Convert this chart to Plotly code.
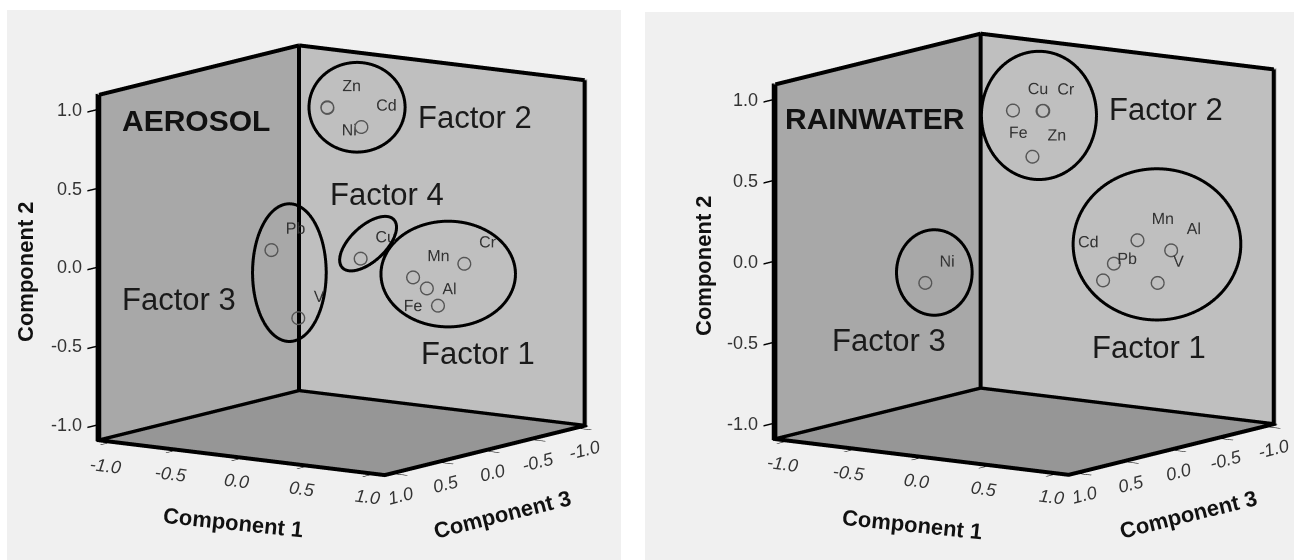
import numpy as np
import plotly.graph_objects as go

# ---------------- component loadings ----------------
aer_elements = ["Zn", "Ni", "Cd", "Cu", "Mn", "Al", "Fe", "Cr", "Pb", "V"]
aer_comp1 = [-0.01, -0.03, 0.18, 0.42, 0.75, 0.82, 0.94, 0.86, -0.05, 0.19]
aer_comp2 = [0.99, 0.98, 0.87, 0.11, 0.01, -0.06, -0.15, 0.05, 0.16, -0.24]
aer_comp3 = [0.15, 0.12, 0.05, 0.40, 0.30, 0.25, 0.30, -0.10, 0.70, 0.75]
aer_textpos = ["top right", "bottom right", "top right", "top right", "top right",
               "middle right", "middle left", "top right", "top right", "top right"]

rain_elements = ["Cu", "Cr", "Fe", "Zn", "Cd", "Mn", "Al", "Pb", "V", "Ni"]
rain_comp1 = [-0.02, 0.20, 0.17, 0.16, 0.73, 0.80, 0.91, 0.72, 0.88, -0.18]
rain_comp2 = [0.90, 0.92, 0.91, 0.64, 0.03, 0.16, 0.08, -0.06, -0.11, -0.08]
rain_comp3 = [0.10, 0.10, 0.05, 0.15, 0.10, -0.05, -0.25, 0.20, -0.15, 0.80]
rain_textpos = ["top right", "top right", "bottom left", "top right", "top left",
                "top right", "top right", "top right", "top right", "top right"]

# factor groupings: centre (c1, c2, c3), semi-axes, tilt in degrees
aer_factor_names = ["Factor 1", "Factor 2", "Factor 3", "Factor 4"]
aer_ring_centre = [(0.67, -0.05, -0.20), (-0.44, 0.81, -0.79), (0.09, 0.03, 0.70), (0.48, 0.21, 0.40)]
aer_ring_axes = [(0.42, 0.33), (0.30, 0.28), (0.23, 0.43), (0.22, 0.11)]
aer_ring_tilt = [0, 0, 0, 43]
aer_label_pos = [(0.83, -0.55, -0.30), (0.665, 0.90, -0.50), (-0.61, -0.18, 0.90), (0.34, 0.45, 0.0)]

rain_factor_names = ["Factor 1", "Factor 2", "Factor 3"]
rain_ring_centre = [(0.66, 0.06, -0.46), (-0.47, 0.69, -0.82), (-0.11, -0.01, 0.80)]
rain_ring_axes = [(0.51, 0.46), (0.35, 0.39), (0.23, 0.26)]
rain_ring_tilt = [0, 0, 0]
rain_label_pos = [(0.71, -0.55, -0.30), (0.63, 0.87, -0.60), (-0.375, -0.44, 0.90)]

tick_vals = [-1.0, -0.5, 0.0, 0.5, 1.0]

R = 1.1  # half-width of the plotting cube
FONT = "Liberation Sans, Arial, sans-serif"
W, H = 1294, 560

# camera: looking from the +Component 1 / +Component 3 side, slightly raised
eye_dir = np.array([0.566, -0.806, 0.1736])
eye_dir = eye_dir / np.linalg.norm(eye_dir)


def to_scene(c1, c2, c3):
    """Scene axes: x = Component 1, y = -Component 3, z = Component 2."""
    return c1, -c3, c2


# screen-facing basis vectors for drawing the group outlines
right_vec = np.cross([0, 0, 1], eye_dir)
right_vec /= np.linalg.norm(right_vec)
up_vec = np.cross(eye_dir, right_vec)
up_vec /= np.linalg.norm(up_vec)


def ring(centre, axes, tilt):
    c = np.array(to_scene(*centre))
    a, b = axes
    th = np.radians(tilt)
    d1 = np.cos(th) * right_vec + np.sin(th) * up_vec
    d2 = -np.sin(th) * right_vec + np.cos(th) * up_vec
    t = np.linspace(0, 2 * np.pi, 121)
    pts = c[None, :] + a * np.cos(t)[:, None] * d1 + b * np.sin(t)[:, None] * d2
    return pts[:, 0], pts[:, 1], pts[:, 2]


def frame_edges():
    """Outline of the three back walls, nudged toward the viewer so the
    lines sit in front of the wall planes."""
    xs, ys, zs = [], [], []
    segs = [
        ((-R, -R, -R), (-R, -R, R)), ((-R, R, -R), (-R, R, R)), ((R, R, -R), (R, R, R)),
        ((-R, R, R), (R, R, R)), ((-R, R, -R), (R, R, -R)), ((-R, -R, -R), (R, -R, -R)),
        ((-R, -R, R), (-R, R, R)), ((-R, -R, -R), (-R, R, -R)), ((R, -R, -R), (R, R, -R)),
    ]
    nudge = 0.03 * eye_dir
    lim = R - 0.004
    for p, q in segs:
        p2 = np.clip(np.array(p) + nudge, -lim, lim)
        q2 = np.clip(np.array(q) + nudge, -lim, lim)
        xs += [p2[0], q2[0], None]
        ys += [p2[1], q2[1], None]
        zs += [p2[2], q2[2], None]
    return xs, ys, zs


def add_panel(fig, scene, names, c1, c2, c3, textpos, rcent, raxes, rtilt):
    fx, fy, fz = frame_edges()
    fig.add_trace(go.Scatter3d(x=fx, y=fy, z=fz, mode="lines",
                               line=dict(color="black", width=8),
                               hoverinfo="skip", scene=scene))
    for cen, ax, tl in zip(rcent, raxes, rtilt):
        ex, ey, ez = ring(cen, ax, tl)
        fig.add_trace(go.Scatter3d(x=ex, y=ey, z=ez, mode="lines",
                                   line=dict(color="black", width=6),
                                   hoverinfo="skip", scene=scene))
    fig.add_trace(go.Scatter3d(
        x=list(c1), y=[-v for v in c3], z=list(c2),
        mode="markers+text", text=names, textposition=textpos,
        textfont=dict(family=FONT, size=16, color="#333333"),
        marker=dict(symbol="circle-open", size=8, color="#555555"),
        hoverinfo="skip", scene=scene))


def tick_labels():
    """Tick labels placed at the tick positions on the three labelled edges."""
    out = []
    f = dict(family=FONT, size=18, color="#333333")
    for v in tick_vals:
        txt = "%.1f" % v
        # Component 1 along the front floor edge
        out.append(dict(x=v, y=-R, z=-R, text="<i>%s</i>" % txt, showarrow=False,
                        xanchor="center", yanchor="middle", xshift=-4, yshift=-23,
                        textangle=7, font=f))
        # Component 3 along the right floor edge
        x, y, z = to_scene(R, -R, v)
        out.append(dict(x=x, y=y, z=z, text="<i>%s</i>" % txt, showarrow=False,
                        xanchor="center", yanchor="middle", xshift=6, yshift=-22,
                        textangle=-14, font=f))
        # Component 2 on the front-left vertical edge
        out.append(dict(x=-R, y=-R, z=v, text=txt, showarrow=False,
                        xanchor="right", yanchor="middle", xshift=-13, yshift=0,
                        font=f))
    return out


def scene_layout(domain_x, domain_y, annotations, cube, cube_centre_px):
    common = dict(range=[-R, R], showgrid=False, zeroline=False, showspikes=False,
                  showbackground=True, ticks="outside", ticklen=16, tickwidth=3,
                  tickcolor="black", showline=True, linecolor="black", linewidth=4,
                  tickvals=tick_vals, showticklabels=False,
                  title=dict(text=""))
    xa = dict(common, backgroundcolor="#a8a8a8")
    ya = dict(common, backgroundcolor="#bfbfbf")
    za = dict(common, backgroundcolor="#969696")
    e = eye_dir * 2.5
    # shift the look-at point so the cube sits where wanted inside the domain
    dom_cx = (domain_x[0] + domain_x[1]) / 2 * W
    half_h = (domain_y[1] - domain_y[0]) * H / 2
    shift = -(cube_centre_px - dom_cx) / half_h * right_vec
    return dict(
        domain=dict(x=domain_x, y=domain_y),
        xaxis=xa, yaxis=ya, zaxis=za,
        aspectmode="manual", aspectratio=dict(x=cube, y=cube, z=cube),
        bgcolor="rgba(0,0,0,0)",
        camera=dict(eye=dict(x=e[0] + shift[0], y=e[1] + shift[1], z=e[2] + shift[2]),
                    up=dict(x=0, y=0, z=1),
                    center=dict(x=shift[0], y=shift[1], z=shift[2]),
                    projection=dict(type="orthographic")),
        annotations=annotations + tick_labels(),
    )


def factor_annotations(names, positions, title):
    anns = []
    for n, (c1, c2, c3) in zip(names, positions):
        x, y, z = to_scene(c1, c2, c3)
        anns.append(dict(x=x, y=y, z=z, text=n, showarrow=False,
                         font=dict(family=FONT, size=31, color="#1a1a1a")))
    x, y, z = to_scene(*title[1])
    anns.append(dict(x=x, y=y, z=z, text="<b>%s</b>" % title[0], showarrow=False,
                     font=dict(family=FONT, size=30, color="#111111")))
    return anns


def axis_titles(c1_xy, c3_xy, c2_xy):
    out = []
    for txt, (px, py), ang in (("Component 1", c1_xy, 6), ("Component 3", c3_xy, -14),
                               ("Component 2", c2_xy, -90)):
        out.append(dict(xref="paper", yref="paper", x=px / W, y=1 - py / H,
                        xanchor="center", yanchor="middle", showarrow=False,
                        text="<b>%s</b>" % txt, textangle=ang,
                        font=dict(family=FONT, size=22, color="#111111")))
    return out


fig = go.Figure()
add_panel(fig, "scene", aer_elements, aer_comp1, aer_comp2, aer_comp3, aer_textpos,
          aer_ring_centre, aer_ring_axes, aer_ring_tilt)
add_panel(fig, "scene2", rain_elements, rain_comp1, rain_comp2, rain_comp3, rain_textpos,
          rain_ring_centre, rain_ring_axes, rain_ring_tilt)

aer_anns = factor_annotations(aer_factor_names, aer_label_pos, ("AEROSOL", (-0.76, 0.88, 0.50)))
rain_anns = factor_annotations(rain_factor_names, rain_label_pos, ("RAINWATER", (-0.69, 0.855, 0.60)))

fig.update_layout(
    width=W, height=H, margin=dict(l=0, r=0, t=0, b=0),
    paper_bgcolor="white", showlegend=False,
    scene=scene_layout([0, 684 / W], [1 - 520 / H, 1.0], aer_anns, 1.355, 342.0),
    scene2=scene_layout([690 / W, 1.0], [1 - 508 / H, 1.0], rain_anns, 1.424, 1024.7),
    annotations=axis_titles((233, 522), (502, 514), (25, 272))
    + axis_titles((912, 524), (1188, 514), (703, 266)),
    shapes=[
        dict(type="rect", xref="paper", yref="paper", x0=7 / W, x1=621 / W, y0=0, y1=1 - 10 / H,
             fillcolor="#f0f0f0", line=dict(width=0), layer="below"),
        dict(type="rect", xref="paper", yref="paper", x0=645 / W, x1=1, y0=0, y1=1 - 12 / H,
             fillcolor="#f0f0f0", line=dict(width=0), layer="below"),
    ],
)

fig.write_html("out.html", config=dict(displayModeBar=False))
